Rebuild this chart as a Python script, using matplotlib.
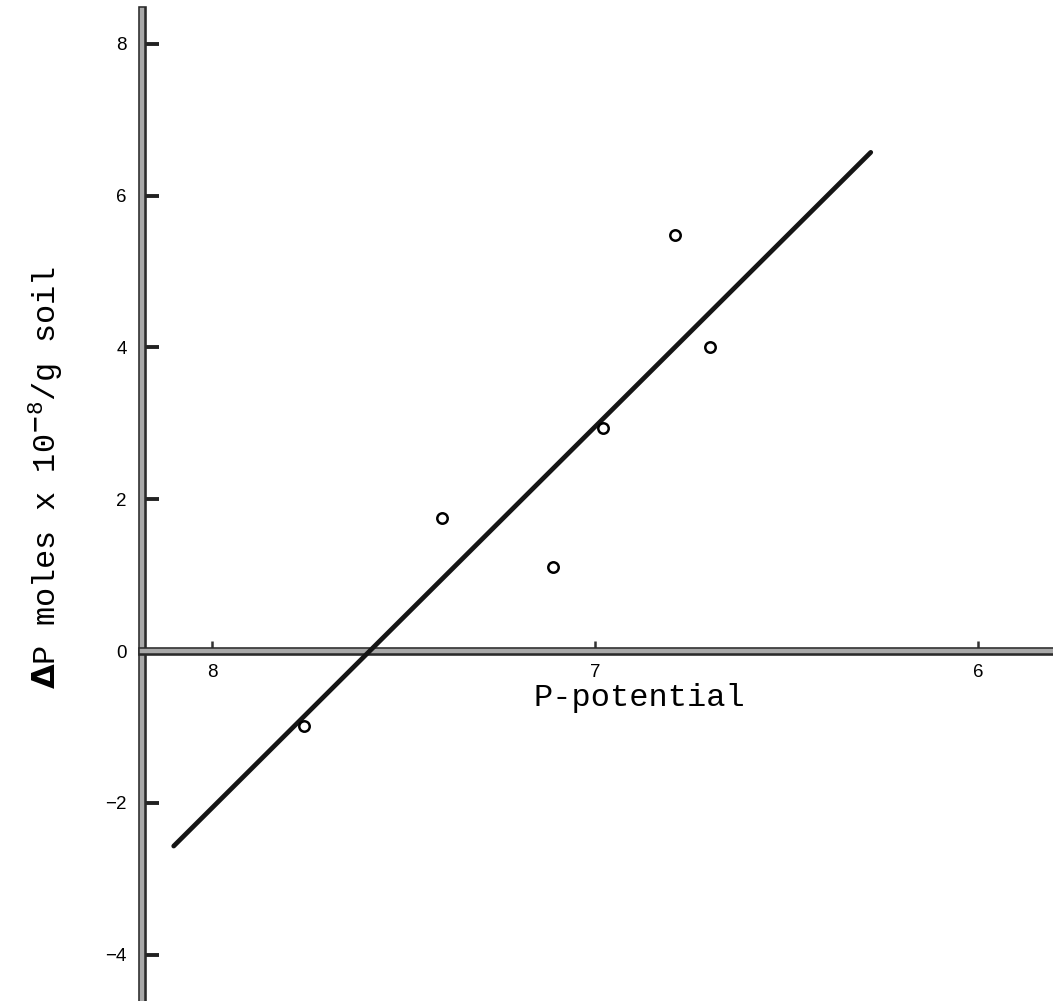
import matplotlib
matplotlib.use("Agg")
import matplotlib.pyplot as plt
import matplotlib.patheffects as pe

plt.rcParams['mathtext.fontset'] = 'custom'
plt.rcParams['mathtext.rm'] = 'Liberation Mono'
plt.rcParams['mathtext.bf'] = 'DejaVu Sans:bold'

# measured points: P-potential vs change in adsorbed P
p_potential = [7.76, 7.40, 7.11, 6.98, 6.79, 6.70]
delta_p = [-0.99, 1.75, 1.11, 2.94, 5.48, 4.01]

# fitted line, drawn between its two ends
fit_x = [8.10, 6.28]
fit_y = [-2.57, 6.57]

x_ticks = [8, 7, 6]
y_ticks = [-4, -2, 0, 2, 4, 6, 8]

fig = plt.figure(figsize=(10.53, 10.01), dpi=100)
ax = fig.add_axes([0, 0, 1, 1])
ax.set_xlim(8.5535, 5.8042)
ax.set_ylim(-4.611, 8.577)

ax.plot(fit_x, fit_y, color='#151515', lw=3.4, solid_capstyle='round', zorder=3)
ax.plot(p_potential, delta_p, 'o', ms=7.5, mfc='white', mec='black', mew=1.8, zorder=4)

# hand-drawn axes crossing at the origin
for side in ('top', 'right'):
    ax.spines[side].set_visible(False)
ax.spines['left'].set_position(('data', 8.183))
ax.spines['bottom'].set_position(('data', 0))
ax.spines['left'].set_bounds(-4.611, 8.445)
ax.spines['bottom'].set_bounds(8.183, 5.8042)
for side in ('left', 'bottom'):
    sp = ax.spines[side]
    sp.set_color('#a8a8a8')
    sp.set_linewidth(3.2)
    sp.set_path_effects([pe.Stroke(linewidth=6.2, foreground='#2a2a2a'), pe.Normal()])

ax.set_xticks(x_ticks)
ax.set_yticks(y_ticks)
ax.set_xticklabels([str(t) for t in x_ticks])
ax.set_yticklabels([str(t).replace('-', '\u2212') for t in y_ticks])
ax.tick_params(axis='y', direction='in', length=12, width=2.8, color='#222222',
               pad=11, labelsize=13.5)
ax.tick_params(axis='x', direction='in', length=7, width=1.8, color='#333333',
               pad=9, labelsize=13.5)
for lab in ax.get_xticklabels() + ax.get_yticklabels():
    lab.set_fontfamily('Liberation Sans')

fig.text(0.607, 0.303, 'P-potential', family='Liberation Mono', fontsize=23,
         ha='center', va='center')
fig.text(0.043, 0.523, r'$\mathbf{\Delta}$P moles x 10$^{\mathbf{-}8}$/g soil',
         family='Liberation Mono', fontsize=23, rotation=90,
         ha='center', va='center')

fig.savefig('out.png', dpi=100)
